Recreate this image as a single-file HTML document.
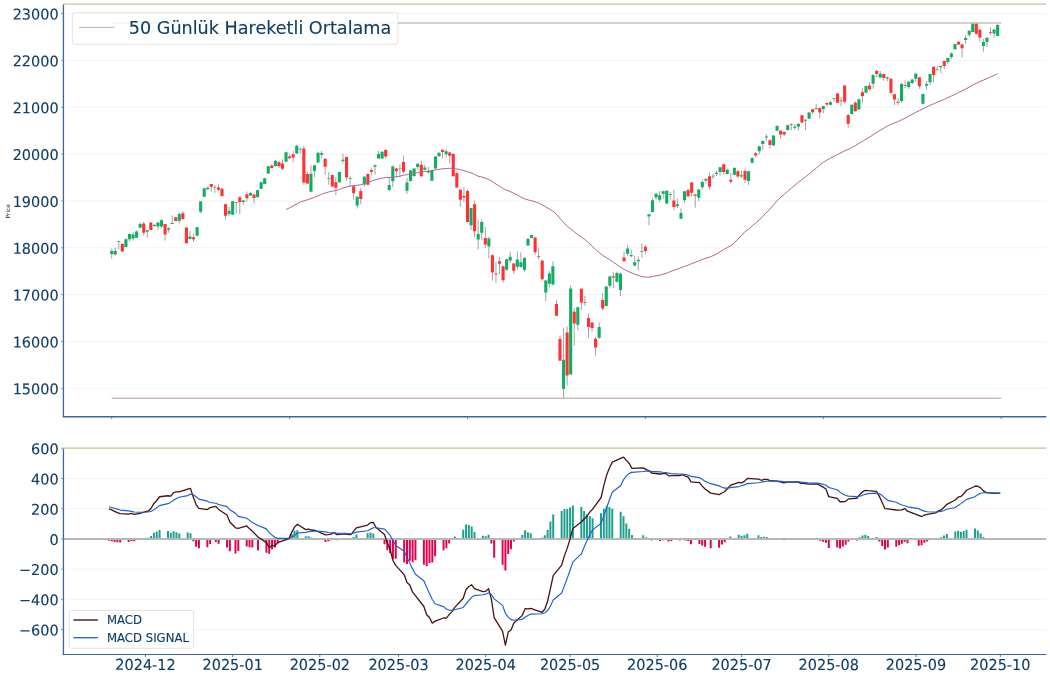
<!DOCTYPE html>
<html lang="tr"><head><meta charset="utf-8"><title>Grafik</title>
<style>html,body{margin:0;padding:0;background:#fff}svg{display:block}text{font-family:"DejaVu Sans","Liberation Sans",sans-serif;fill:#0f3d63;stroke:#0f3d63;stroke-width:0.12px}</style></head><body>
<svg width="1050" height="677" viewBox="0 0 1050 677">
<rect width="1050" height="677" fill="#fff"/>
<g id="price">
<line x1="65" x2="1046.3" y1="388.30" y2="388.30" stroke="#f3f3f3" stroke-width="1"/>
<line x1="65" x2="1046.3" y1="341.46" y2="341.46" stroke="#f3f3f3" stroke-width="1"/>
<line x1="65" x2="1046.3" y1="294.62" y2="294.62" stroke="#f3f3f3" stroke-width="1"/>
<line x1="65" x2="1046.3" y1="247.78" y2="247.78" stroke="#f3f3f3" stroke-width="1"/>
<line x1="65" x2="1046.3" y1="200.93" y2="200.93" stroke="#f3f3f3" stroke-width="1"/>
<line x1="65" x2="1046.3" y1="154.09" y2="154.09" stroke="#f3f3f3" stroke-width="1"/>
<line x1="65" x2="1046.3" y1="107.25" y2="107.25" stroke="#f3f3f3" stroke-width="1"/>
<line x1="65" x2="1046.3" y1="60.40" y2="60.40" stroke="#f3f3f3" stroke-width="1"/>
<line x1="65" x2="1046.3" y1="13.56" y2="13.56" stroke="#f3f3f3" stroke-width="1"/>
<line x1="111.7" x2="1001.2" y1="22.9" y2="22.9" stroke="#cbbec0" stroke-width="1.5"/>
<line x1="111.7" x2="1001.2" y1="398.2" y2="398.2" stroke="#cfbcbc" stroke-width="1.5"/>
<path d="M111.70 248.86V258.41M115.26 247.62V255.43M118.82 240.92V249.48M122.37 243.28V251.59M125.93 238.31V247.62M129.49 233.35V241.41M133.05 232.11V240.42M136.61 230.25V238.06M140.16 222.18V228.14M143.72 221.56V235.58M147.28 229.63V237.69M150.84 222.18V230.25M154.40 224.04V226.53M157.95 222.18V229.63M161.51 219.08V227.77M165.07 224.04V240.55M168.63 227.15V232.73M172.19 215.36V224.04M175.74 216.85V221.32M179.30 212.51V223.42M182.86 211.02V219.70M186.42 227.52V243.52M189.98 230.87V239.31M193.53 233.60V242.03M197.09 226.90V236.45M200.65 201.09V213.50M204.21 187.69V197.12M207.77 186.45V189.93M211.32 183.72V191.79M214.88 184.96V192.78M218.44 184.34V191.17M222.00 188.06V196.75M225.56 203.90V219.40M229.11 207.00V215.93M232.67 200.79V215.06M236.23 202.03V213.82M239.79 195.83V214.07M243.35 200.17V205.14M246.90 191.49V201.66M250.46 192.11V195.83M254.02 193.97V203.52M257.58 189.63V197.69M261.14 181.56V189.01M264.69 177.84V184.42M268.25 165.81V173.75M271.81 164.19V168.54M275.37 159.85V166.67M278.93 160.47V167.92M282.48 159.23V170.40M286.04 151.79V162.08M289.60 153.65V158.86M293.16 151.17V162.33M296.72 144.71V153.90M300.27 147.69V153.65M303.83 145.58V184.91M307.39 171.64V183.67M310.95 165.43V192.36M314.51 164.81V177.22M318.06 152.41V162.95M321.62 150.92V158.61M325.18 158.61V174.74M328.74 172.01V184.67M332.30 174.74V187.15M335.85 176.60V194.96M339.41 171.64V182.80M342.97 153.90V163.57M346.53 156.50V180.69M350.09 175.73V186.53M353.64 185.91V199.80M357.20 196.45V208.49M360.76 187.77V204.27M364.32 175.98V186.90M367.88 173.75V185.29M371.43 167.54V175.36M374.99 164.19V174.74M378.55 150.92V158.86M382.11 151.17V158.98M385.67 148.68V158.61M389.22 177.22V191.12M392.78 165.43V186.90M396.34 167.92V177.84M399.90 164.19V177.22M403.46 155.51V173.75M407.01 177.84V193.97M410.57 169.78V181.56M414.13 167.92V176.97M417.69 163.33V169.78M421.25 160.84V177.22M424.80 164.81V170.40M428.36 166.67V173.50M431.92 169.78V180.94M435.48 156.13V169.16M439.04 152.41V156.75M442.59 149.31V158.36M446.15 149.31V157.37M449.71 152.03V163.57M453.27 153.40V176.60M456.83 171.64V187.77M460.38 189.45V206.82M463.94 187.22V202.11M467.50 189.70V222.21M471.06 207.69V230.02M474.62 200.87V237.10M478.17 220.04V249.33M481.73 219.42V240.27M485.29 226.87V248.33M488.85 236.55V258.26M492.41 254.29V280.59M495.96 261.98V282.82M499.52 257.02V273.77M503.08 265.70V282.82M506.64 258.51V270.91M510.20 251.43V263.22M513.75 262.97V273.77M517.31 251.43V269.42M520.87 252.30V267.56M524.43 257.02V271.91M527.99 238.41V245.85M531.54 234.44V238.41M535.10 236.92V254.54M538.66 248.33V259.50M542.22 259.50V280.59M545.78 279.97V301.06M549.33 271.29V287.41M552.89 261.36V285.55M556.45 299.67V315.99M560.01 335.47V360.81M563.57 327.70V397.95M567.12 326.55V385.47M570.68 285.28V374.43M574.24 308.31V345.64M577.80 306.39V330.38M581.36 288.45V310.23M584.91 295.83V305.91M588.47 313.40V338.06M592.03 322.23V332.30M595.59 337.10V355.72M599.15 322.23V339.02M602.70 293.24V310.90M606.26 286.24V306.10M609.82 275.55V288.58M613.38 272.45V287.96M616.94 271.83V282.38M620.49 272.45V296.02M624.05 251.36V261.66M627.61 245.16V256.32M631.17 249.50V256.94M634.73 255.70V266.25M638.28 256.32V270.59M641.84 243.30V257.56M645.40 244.54V254.46M648.96 214.27V225.31M652.52 197.77V212.28M656.07 193.18V199.63M659.63 190.94V202.11M663.19 190.69V198.64M666.75 189.95V203.97M670.31 192.18V199.63M673.86 189.70V210.17M677.42 198.39V208.31M680.98 208.31V219.23M684.54 190.94V202.73M688.10 188.46V196.90M691.65 182.01V196.53M695.21 194.04V207.69M698.77 189.08V201.49M702.33 179.53V189.70M705.89 177.92V183.50M709.44 172.33V189.95M713.00 173.82V179.16M716.56 170.84V176.05M720.12 166.75V175.43M723.68 163.90V174.81M727.23 168.61V174.81M730.79 172.95V183.75M734.35 166.75V175.43M737.91 169.85V177.92M741.47 170.47V177.92M745.02 168.61V182.88M748.58 170.84V184.99M752.14 157.44V163.40M755.70 151.96V157.54M759.26 145.51V154.44M762.81 140.55V149.48M766.37 134.34V141.04M769.93 139.55V148.49M773.49 135.21V145.76M777.05 125.29V131.12M780.60 130.25V138.56M784.16 131.49V136.08M787.72 124.42V130.62M791.28 123.42V130.25M794.84 124.04V129.63M798.39 122.80V130.62M801.95 114.99V122.80M805.51 119.08V130.00M809.07 112.01V119.08M812.63 108.54V114.12M816.18 104.19V109.53M819.74 107.30V118.46M823.30 105.81V113.25M826.86 102.58V106.67M830.42 100.47V105.43M833.97 97.99V101.71M837.53 93.03V102.95M841.09 96.75V106.05M844.65 85.21V103.57M848.21 113.50V127.52M851.76 104.57V114.49M855.32 101.09V112.01M858.88 98.61V109.78M862.44 88.44V102.70M866.00 85.58V93.03M869.55 81.86V90.92M873.11 74.33V88.73M876.67 69.67V77.00M880.23 71.00V77.67M883.79 73.67V80.60M887.34 76.73V81.00M890.90 78.33V93.67M894.46 93.93V105.00M898.02 98.33V105.27M901.58 82.33V102.73M905.13 80.33V88.33M908.69 81.00V89.00M912.25 79.00V84.33M915.81 72.60V81.67M919.37 77.00V88.73M922.92 93.67V104.60M926.48 81.00V89.67M930.04 73.67V85.00M933.60 66.33V82.07M937.16 66.07V71.00M940.71 65.67V73.00M944.27 60.60V69.00M947.83 57.67V64.33M951.39 52.33V59.00M954.95 43.67V49.40M958.50 41.40V45.00M962.06 44.33V57.67M965.62 35.00V43.67M969.18 30.33V37.00M972.74 23.00V32.33M976.29 23.27V35.00M979.85 29.40V41.67M983.41 39.00V51.67M986.97 37.40V47.00M990.53 27.27V35.27M994.08 29.00V37.40M997.64 24.07V36.07" stroke="#8a8a8a" stroke-width="0.8" fill="none"/>
<path d="M110.15 251.09h3.1v2.98h-3.1zM113.71 251.09h3.1v3.35h-3.1zM117.27 240.92h3.1v0.74h-3.1zM124.38 239.18h3.1v7.82h-3.1zM127.94 233.97h3.1v5.33h-3.1zM131.50 234.59h3.1v3.97h-3.1zM135.06 231.49h3.1v6.20h-3.1zM138.61 224.04h3.1v3.72h-3.1zM145.73 230.25h3.1v1.61h-3.1zM152.85 224.91h3.1v0.99h-3.1zM156.40 222.43h3.1v4.09h-3.1zM159.96 220.32h3.1v6.20h-3.1zM167.08 228.14h3.1v1.49h-3.1zM170.64 223.05h3.1v0.99h-3.1zM177.75 214.12h3.1v6.58h-3.1zM188.43 236.45h3.1v2.48h-3.1zM195.54 227.15h3.1v8.68h-3.1zM199.10 201.46h3.1v10.17h-3.1zM202.66 188.31h3.1v8.44h-3.1zM206.22 187.69h3.1v1.61h-3.1zM227.56 210.72h3.1v3.35h-3.1zM231.12 201.17h3.1v13.65h-3.1zM241.80 200.55h3.1v1.49h-3.1zM248.91 192.98h3.1v2.48h-3.1zM256.03 190.25h3.1v6.82h-3.1zM259.59 182.18h3.1v6.58h-3.1zM263.14 178.21h3.1v5.83h-3.1zM266.70 166.30h3.1v7.20h-3.1zM273.82 160.72h3.1v5.33h-3.1zM284.49 152.16h3.1v9.55h-3.1zM295.17 145.83h3.1v7.57h-3.1zM298.72 148.68h3.1v0.74h-3.1zM309.40 173.75h3.1v18.11h-3.1zM312.96 165.19h3.1v5.83h-3.1zM316.51 152.78h3.1v9.80h-3.1zM320.07 153.03h3.1v1.61h-3.1zM327.19 178.21h3.1v0.87h-3.1zM337.86 172.01h3.1v10.17h-3.1zM341.42 159.85h3.1v1.24h-3.1zM348.54 178.09h3.1v0.74h-3.1zM355.65 196.82h3.1v8.68h-3.1zM362.77 176.85h3.1v7.57h-3.1zM373.44 165.19h3.1v1.49h-3.1zM377.00 153.90h3.1v4.71h-3.1zM380.56 151.79h3.1v6.82h-3.1zM387.67 185.04h3.1v4.96h-3.1zM391.23 166.43h3.1v14.89h-3.1zM405.46 182.56h3.1v8.31h-3.1zM409.02 170.40h3.1v10.55h-3.1zM412.58 168.54h3.1v7.44h-3.1zM416.14 163.82h3.1v3.23h-3.1zM423.25 167.54h3.1v2.23h-3.1zM426.81 171.27h3.1v1.24h-3.1zM430.37 170.40h3.1v10.30h-3.1zM433.93 156.50h3.1v12.03h-3.1zM437.49 152.78h3.1v3.35h-3.1zM444.60 151.17h3.1v3.10h-3.1zM469.51 207.94h3.1v17.37h-3.1zM476.62 234.06h3.1v5.33h-3.1zM480.18 221.91h3.1v10.92h-3.1zM487.30 238.41h3.1v8.06h-3.1zM505.09 259.25h3.1v10.42h-3.1zM508.65 256.77h3.1v3.72h-3.1zM515.76 259.50h3.1v7.20h-3.1zM519.32 262.23h3.1v4.71h-3.1zM522.88 258.01h3.1v12.03h-3.1zM526.44 238.78h3.1v6.82h-3.1zM529.99 234.93h3.1v3.10h-3.1zM544.23 280.59h3.1v11.79h-3.1zM547.78 273.39h3.1v10.30h-3.1zM551.34 266.32h3.1v18.24h-3.1zM562.02 359.85h3.1v28.98h-3.1zM569.13 288.45h3.1v85.99h-3.1zM576.25 307.16h3.1v17.47h-3.1zM597.60 327.02h3.1v10.84h-3.1zM604.71 286.53h3.1v19.39h-3.1zM608.27 276.42h3.1v9.43h-3.1zM615.39 273.07h3.1v8.68h-3.1zM618.94 273.69h3.1v16.38h-3.1zM626.06 248.51h3.1v5.33h-3.1zM629.62 255.08h3.1v1.24h-3.1zM633.18 262.15h3.1v3.47h-3.1zM636.73 259.67h3.1v1.61h-3.1zM640.29 250.99h3.1v0.74h-3.1zM647.41 214.27h3.1v2.11h-3.1zM650.97 200.25h3.1v11.79h-3.1zM654.52 193.67h3.1v3.85h-3.1zM658.08 195.29h3.1v4.34h-3.1zM661.64 191.19h3.1v2.48h-3.1zM665.20 190.69h3.1v12.90h-3.1zM668.76 193.92h3.1v0.74h-3.1zM675.87 204.22h3.1v1.86h-3.1zM679.43 213.03h3.1v5.83h-3.1zM682.99 191.32h3.1v8.93h-3.1zM697.22 189.45h3.1v8.31h-3.1zM700.78 182.01h3.1v5.21h-3.1zM704.34 178.91h3.1v1.49h-3.1zM711.45 175.81h3.1v0.74h-3.1zM715.01 172.70h3.1v1.24h-3.1zM718.57 167.37h3.1v4.71h-3.1zM725.68 169.85h3.1v4.09h-3.1zM732.80 167.99h3.1v6.82h-3.1zM739.92 175.19h3.1v1.24h-3.1zM747.03 171.34h3.1v9.68h-3.1zM750.59 158.06h3.1v4.71h-3.1zM757.71 146.13h3.1v5.21h-3.1zM761.26 141.04h3.1v2.85h-3.1zM764.82 136.45h3.1v0.99h-3.1zM771.94 135.46h3.1v10.05h-3.1zM775.50 125.91h3.1v4.96h-3.1zM786.17 125.29h3.1v4.71h-3.1zM793.29 126.53h3.1v1.24h-3.1zM796.84 124.04h3.1v2.48h-3.1zM803.96 119.70h3.1v0.99h-3.1zM807.52 112.51h3.1v6.20h-3.1zM814.63 108.29h3.1v0.99h-3.1zM821.75 106.05h3.1v2.85h-3.1zM828.87 102.33h3.1v2.48h-3.1zM832.42 98.36h3.1v0.62h-3.1zM850.21 104.81h3.1v9.31h-3.1zM857.33 99.23h3.1v10.30h-3.1zM864.45 85.96h3.1v6.70h-3.1zM871.56 75.00h3.1v8.67h-3.1zM878.68 73.67h3.1v3.73h-3.1zM885.79 77.13h3.1v1.47h-3.1zM900.03 83.93h3.1v17.07h-3.1zM907.14 81.67h3.1v5.33h-3.1zM910.70 79.40h3.1v3.60h-3.1zM914.26 73.67h3.1v5.07h-3.1zM921.37 93.93h3.1v9.73h-3.1zM924.93 83.93h3.1v1.73h-3.1zM928.49 73.93h3.1v8.40h-3.1zM939.16 65.93h3.1v1.33h-3.1zM946.28 58.07h3.1v3.87h-3.1zM949.84 53.40h3.1v3.60h-3.1zM953.40 43.93h3.1v5.33h-3.1zM964.07 38.07h3.1v2.00h-3.1zM967.63 30.73h3.1v4.00h-3.1zM971.19 23.67h3.1v8.40h-3.1zM981.86 42.07h3.1v3.87h-3.1zM985.42 37.67h3.1v4.40h-3.1zM992.53 29.40h3.1v4.00h-3.1zM996.09 25.00h3.1v10.93h-3.1z" fill="#10ae60"/>
<path d="M120.82 243.90h3.1v7.69h-3.1zM142.17 223.42h3.1v9.31h-3.1zM149.29 222.43h3.1v7.57h-3.1zM163.52 224.04h3.1v10.55h-3.1zM174.19 217.22h3.1v3.72h-3.1zM181.31 213.25h3.1v5.83h-3.1zM184.87 227.52h3.1v15.76h-3.1zM191.98 237.32h3.1v1.86h-3.1zM209.77 184.09h3.1v2.73h-3.1zM213.33 187.20h3.1v0.60h-3.1zM216.89 187.44h3.1v2.23h-3.1zM220.45 188.68h3.1v7.20h-3.1zM224.01 204.14h3.1v11.54h-3.1zM234.68 202.03h3.1v0.62h-3.1zM238.24 197.32h3.1v4.71h-3.1zM245.35 194.22h3.1v4.09h-3.1zM252.47 194.59h3.1v3.47h-3.1zM270.26 165.43h3.1v2.48h-3.1zM277.38 162.33h3.1v3.97h-3.1zM280.93 163.57h3.1v5.21h-3.1zM288.05 156.50h3.1v1.86h-3.1zM291.61 154.27h3.1v3.35h-3.1zM302.28 148.44h3.1v34.00h-3.1zM305.84 174.12h3.1v9.31h-3.1zM323.63 158.86h3.1v7.82h-3.1zM330.75 175.11h3.1v11.41h-3.1zM334.30 182.18h3.1v5.58h-3.1zM344.98 157.00h3.1v20.60h-3.1zM352.09 186.28h3.1v7.07h-3.1zM359.21 191.12h3.1v7.82h-3.1zM366.33 174.12h3.1v10.55h-3.1zM369.88 170.02h3.1v1.61h-3.1zM384.12 149.93h3.1v6.45h-3.1zM394.79 168.54h3.1v2.73h-3.1zM398.35 168.16h3.1v0.62h-3.1zM401.91 162.08h3.1v9.55h-3.1zM419.70 164.81h3.1v11.54h-3.1zM441.04 149.68h3.1v2.36h-3.1zM448.16 152.41h3.1v3.35h-3.1zM451.72 153.90h3.1v22.33h-3.1zM455.28 173.25h3.1v14.27h-3.1zM458.83 189.70h3.1v9.93h-3.1zM462.39 195.91h3.1v1.49h-3.1zM465.95 190.94h3.1v31.02h-3.1zM473.07 204.22h3.1v27.05h-3.1zM483.74 238.03h3.1v6.58h-3.1zM490.86 255.16h3.1v17.37h-3.1zM494.41 273.52h3.1v0.87h-3.1zM497.97 261.36h3.1v2.48h-3.1zM501.53 266.32h3.1v14.02h-3.1zM512.20 263.59h3.1v7.07h-3.1zM533.55 237.41h3.1v14.89h-3.1zM537.11 256.02h3.1v0.74h-3.1zM540.67 260.74h3.1v18.61h-3.1zM554.90 303.99h3.1v11.71h-3.1zM558.46 339.02h3.1v21.79h-3.1zM565.57 332.59h3.1v42.99h-3.1zM572.69 311.67h3.1v11.71h-3.1zM579.81 288.83h3.1v13.72h-3.1zM583.36 302.07h3.1v0.77h-3.1zM586.92 318.10h3.1v8.93h-3.1zM590.48 322.51h3.1v5.47h-3.1zM594.04 338.73h3.1v8.83h-3.1zM601.15 299.96h3.1v8.54h-3.1zM611.83 276.17h3.1v1.24h-3.1zM622.50 257.56h3.1v3.72h-3.1zM643.85 246.65h3.1v4.47h-3.1zM672.31 200.62h3.1v6.45h-3.1zM686.55 189.95h3.1v6.20h-3.1zM690.10 182.51h3.1v10.30h-3.1zM693.66 194.42h3.1v1.24h-3.1zM707.89 176.30h3.1v10.55h-3.1zM722.13 164.27h3.1v7.82h-3.1zM729.24 179.78h3.1v1.86h-3.1zM736.36 171.34h3.1v5.09h-3.1zM743.47 171.09h3.1v8.68h-3.1zM754.15 153.20h3.1v2.23h-3.1zM768.38 140.17h3.1v4.71h-3.1zM779.05 130.87h3.1v3.72h-3.1zM782.61 132.11h3.1v2.48h-3.1zM789.73 123.92h3.1v0.74h-3.1zM800.40 115.36h3.1v7.07h-3.1zM811.08 109.16h3.1v3.10h-3.1zM818.19 108.29h3.1v4.22h-3.1zM825.31 102.95h3.1v1.61h-3.1zM835.98 93.40h3.1v9.31h-3.1zM839.54 100.47h3.1v0.87h-3.1zM843.10 85.58h3.1v16.13h-3.1zM846.66 115.11h3.1v8.56h-3.1zM853.77 102.70h3.1v8.31h-3.1zM860.89 92.16h3.1v3.72h-3.1zM868.00 85.58h3.1v3.72h-3.1zM875.12 71.00h3.1v3.07h-3.1zM882.24 74.07h3.1v4.00h-3.1zM889.35 78.73h3.1v14.00h-3.1zM892.91 94.33h3.1v5.07h-3.1zM896.47 101.67h3.1v1.07h-3.1zM903.58 85.13h3.1v0.80h-3.1zM917.82 77.40h3.1v8.93h-3.1zM932.05 66.73h3.1v8.27h-3.1zM935.61 69.13h3.1v0.67h-3.1zM942.72 61.00h3.1v5.07h-3.1zM956.95 41.67h3.1v2.93h-3.1zM960.51 44.60h3.1v3.73h-3.1zM974.74 23.67h3.1v10.00h-3.1zM978.30 29.67h3.1v7.73h-3.1zM988.98 31.93h3.1v0.80h-3.1z" fill="#fe3133"/>
<polyline points="286.04,209.64 289.60,207.79 293.16,205.92 296.72,204.02 300.27,201.96 303.83,200.82 307.39,199.81 310.95,198.60 314.51,197.27 318.06,195.84 321.62,194.25 325.18,192.98 328.74,191.94 332.30,191.18 335.85,190.48 339.41,189.52 342.97,188.02 346.53,187.01 350.09,186.11 353.64,185.56 357.20,185.21 360.76,184.81 364.32,183.48 367.88,182.45 371.43,181.10 374.99,179.86 378.55,178.90 382.11,178.17 385.67,177.55 389.22,177.51 392.78,177.09 396.34,176.72 399.90,176.18 403.46,175.30 407.01,174.73 410.57,174.12 414.13,173.43 417.69,172.67 421.25,172.19 424.80,171.57 428.36,171.14 431.92,170.58 435.48,169.91 439.04,169.32 442.59,168.80 446.15,168.49 449.71,168.25 453.27,168.56 456.83,168.99 460.38,169.60 463.94,170.51 467.50,171.78 471.06,172.79 474.62,174.49 478.17,176.20 481.73,176.99 485.29,178.21 488.85,179.51 492.41,181.65 495.96,184.09 499.52,186.30 503.08,188.58 506.64,190.20 510.20,191.60 513.75,193.26 517.31,195.01 520.87,197.06 524.43,198.67 527.99,199.88 531.54,200.71 535.10,201.82 538.66,202.98 542.22,205.03 545.78,206.95 549.33,208.98 552.89,211.00 556.45,214.24 560.01,218.42 563.57,222.49 567.12,226.30 570.68,228.74 574.24,231.78 577.80,234.55 581.36,237.17 584.91,239.57 588.47,242.71 592.03,245.90 595.59,249.57 599.15,252.58 602.70,255.40 606.26,257.71 609.82,259.83 613.38,262.25 616.94,264.65 620.49,267.09 624.05,269.29 627.61,271.14 631.17,272.72 634.73,274.21 638.28,275.41 641.84,276.49 645.40,277.07 648.96,277.20 652.52,276.58 656.07,275.77 659.63,275.24 663.19,274.17 666.75,273.21 670.31,271.64 673.86,270.29 677.42,269.10 680.98,267.76 684.54,266.40 688.10,265.19 691.65,263.63 695.21,262.35 698.77,260.90 702.33,259.38 705.89,258.18 709.44,257.22 713.00,255.69 716.56,254.01 720.12,251.77 723.68,249.60 727.23,247.52 730.79,245.83 734.35,242.88 737.91,239.19 741.47,235.50 745.02,231.58 748.58,229.24 752.14,225.93 755.70,222.90 759.26,219.77 762.81,216.53 766.37,212.72 769.93,209.06 773.49,204.82 777.05,200.79 780.60,197.32 784.16,194.28 787.72,191.25 791.28,188.20 794.84,185.27 798.39,182.28 801.95,179.50 805.51,176.92 809.07,174.07 812.63,171.07 816.18,168.05 819.74,165.28 823.30,162.37 826.86,160.18 830.42,158.22 833.97,156.32 837.53,154.46 841.09,152.67 844.65,150.89 848.21,149.48 851.76,147.44 855.32,145.57 858.88,143.30 862.44,141.39 866.00,139.19 869.55,137.12 873.11,134.70 876.67,132.39 880.23,130.23 883.79,128.21 887.34,126.02 890.90,124.36 894.46,122.89 898.02,121.60 901.58,119.83 905.13,118.15 908.69,116.16 912.25,114.38 915.81,112.33 919.37,110.55 922.92,108.83 926.48,107.09 930.04,105.40 933.60,103.80 937.16,102.27 940.71,100.77 944.27,99.36 947.83,97.62 951.39,95.98 954.95,94.34 958.50,92.54 962.06,90.82 965.62,89.07 969.18,87.19 972.74,85.14 976.29,83.33 979.85,81.63 983.41,80.08 986.97,78.58 990.53,76.99 994.08,75.41 997.64,73.66" fill="none" stroke="#b2639a" stroke-width="1" stroke-linejoin="round"/>
<line x1="62.8" x2="1046.3" y1="4.2" y2="4.2" stroke="#cfc291" stroke-width="1.3"/>
<line x1="63.45" x2="63.45" y1="4.8" y2="417.1" stroke="#3a6896" stroke-width="1.3"/>
<line x1="62.8" x2="1046.3" y1="416.8" y2="416.8" stroke="#3a6896" stroke-width="1.5"/>
<line x1="61.0" x2="62.8" y1="388.30" y2="388.30" stroke="#3a6896" stroke-width="0.8" stroke-opacity="0.85"/>
<text transform="translate(58.6,394.30) rotate(0.05) scale(1,1.03)" font-size="14.45" text-anchor="end">15000</text>
<line x1="61.0" x2="62.8" y1="341.46" y2="341.46" stroke="#3a6896" stroke-width="0.8" stroke-opacity="0.85"/>
<text transform="translate(58.6,347.46) rotate(0.05) scale(1,1.03)" font-size="14.45" text-anchor="end">16000</text>
<line x1="61.0" x2="62.8" y1="294.62" y2="294.62" stroke="#3a6896" stroke-width="0.8" stroke-opacity="0.85"/>
<text transform="translate(58.6,300.62) rotate(0.05) scale(1,1.03)" font-size="14.45" text-anchor="end">17000</text>
<line x1="61.0" x2="62.8" y1="247.78" y2="247.78" stroke="#3a6896" stroke-width="0.8" stroke-opacity="0.85"/>
<text transform="translate(58.6,253.78) rotate(0.05) scale(1,1.03)" font-size="14.45" text-anchor="end">18000</text>
<line x1="61.0" x2="62.8" y1="200.93" y2="200.93" stroke="#3a6896" stroke-width="0.8" stroke-opacity="0.85"/>
<text transform="translate(58.6,206.93) rotate(0.05) scale(1,1.03)" font-size="14.45" text-anchor="end">19000</text>
<line x1="61.0" x2="62.8" y1="154.09" y2="154.09" stroke="#3a6896" stroke-width="0.8" stroke-opacity="0.85"/>
<text transform="translate(58.6,160.09) rotate(0.05) scale(1,1.03)" font-size="14.45" text-anchor="end">20000</text>
<line x1="61.0" x2="62.8" y1="107.25" y2="107.25" stroke="#3a6896" stroke-width="0.8" stroke-opacity="0.85"/>
<text transform="translate(58.6,113.25) rotate(0.05) scale(1,1.03)" font-size="14.45" text-anchor="end">21000</text>
<line x1="61.0" x2="62.8" y1="60.40" y2="60.40" stroke="#3a6896" stroke-width="0.8" stroke-opacity="0.85"/>
<text transform="translate(58.6,66.40) rotate(0.05) scale(1,1.03)" font-size="14.45" text-anchor="end">22000</text>
<line x1="61.0" x2="62.8" y1="13.56" y2="13.56" stroke="#3a6896" stroke-width="0.8" stroke-opacity="0.85"/>
<text transform="translate(58.6,19.56) rotate(0.05) scale(1,1.03)" font-size="14.45" text-anchor="end">23000</text>
<line x1="111.70" x2="111.70" y1="417.4" y2="419.0" stroke="#3a6896" stroke-width="0.9"/>
<line x1="289.60" x2="289.60" y1="417.4" y2="419.0" stroke="#3a6896" stroke-width="0.9"/>
<line x1="467.50" x2="467.50" y1="417.4" y2="419.0" stroke="#3a6896" stroke-width="0.9"/>
<line x1="645.40" x2="645.40" y1="417.4" y2="419.0" stroke="#3a6896" stroke-width="0.9"/>
<line x1="823.30" x2="823.30" y1="417.4" y2="419.0" stroke="#3a6896" stroke-width="0.9"/>
<line x1="1001.20" x2="1001.20" y1="417.4" y2="419.0" stroke="#3a6896" stroke-width="0.9"/>
<text transform="translate(9.5,211.3) rotate(-90)" font-size="5.8" text-anchor="middle" style="fill:#222;stroke:none">Price</text>
<rect x="72.4" y="12.8" width="325.6" height="31.5" rx="2.4" fill="#fff" fill-opacity="0.8" stroke="#dcdcdc" stroke-opacity="0.8" stroke-width="1"/>
<line x1="79" x2="114.3" y1="27.4" y2="27.4" stroke="#b2b2b2" stroke-width="1"/>
<text x="128.8" y="33.6" font-size="17.6">50 Günlük Hareketli Ortalama</text>
</g>
<g id="macd">
<line x1="65" x2="1046.3" y1="448.25" y2="448.25" stroke="#f3f3f3" stroke-width="1"/>
<line x1="65" x2="1046.3" y1="478.47" y2="478.47" stroke="#f3f3f3" stroke-width="1"/>
<line x1="65" x2="1046.3" y1="508.68" y2="508.68" stroke="#f3f3f3" stroke-width="1"/>
<line x1="65" x2="1046.3" y1="538.90" y2="538.90" stroke="#f3f3f3" stroke-width="1"/>
<line x1="65" x2="1046.3" y1="569.12" y2="569.12" stroke="#f3f3f3" stroke-width="1"/>
<line x1="65" x2="1046.3" y1="599.33" y2="599.33" stroke="#f3f3f3" stroke-width="1"/>
<line x1="65" x2="1046.3" y1="629.55" y2="629.55" stroke="#f3f3f3" stroke-width="1"/>
<path d="M147.33 537.84h1.97V538.90h-1.97zM150.14 535.91h1.97V538.90h-1.97zM152.95 532.66h1.97V538.90h-1.97zM155.76 531.55h1.97V538.90h-1.97zM158.57 530.04h1.97V538.90h-1.97zM167.01 531.01h1.97V538.90h-1.97zM169.82 532.86h1.97V538.90h-1.97zM172.63 531.25h1.97V538.90h-1.97zM175.44 532.27h1.97V538.90h-1.97zM178.26 533.47h1.97V538.90h-1.97zM186.69 532.46h1.97V538.90h-1.97zM189.50 533.15h1.97V538.90h-1.97zM290.73 534.07h1.97V538.90h-1.97zM293.54 530.80h1.97V538.90h-1.97zM296.35 530.15h1.97V538.90h-1.97zM304.79 536.16h1.97V538.90h-1.97zM307.60 536.30h1.97V538.90h-1.97zM310.41 537.58h1.97V538.90h-1.97zM313.22 538.02h1.97V538.90h-1.97zM332.91 538.67h1.97V538.90h-1.97zM352.59 536.98h1.97V538.90h-1.97zM355.40 534.57h1.97V538.90h-1.97zM366.65 533.19h1.97V538.90h-1.97zM369.46 532.52h1.97V538.90h-1.97zM372.27 533.47h1.97V538.90h-1.97zM375.08 538.67h1.97V538.90h-1.97zM453.81 536.46h1.97V538.90h-1.97zM462.25 529.69h1.97V538.90h-1.97zM465.06 524.51h1.97V538.90h-1.97zM467.87 525.01h1.97V538.90h-1.97zM470.68 526.41h1.97V538.90h-1.97zM473.50 532.06h1.97V538.90h-1.97zM481.93 535.70h1.97V538.90h-1.97zM484.74 536.16h1.97V538.90h-1.97zM487.55 534.63h1.97V538.90h-1.97zM521.30 534.96h1.97V538.90h-1.97zM524.11 530.36h1.97V538.90h-1.97zM526.92 532.19h1.97V538.90h-1.97zM529.73 533.20h1.97V538.90h-1.97zM540.98 537.47h1.97V538.90h-1.97zM543.79 535.31h1.97V538.90h-1.97zM546.60 529.65h1.97V538.90h-1.97zM549.41 521.41h1.97V538.90h-1.97zM552.23 514.47h1.97V538.90h-1.97zM560.66 511.04h1.97V538.90h-1.97zM563.47 508.97h1.97V538.90h-1.97zM566.28 508.94h1.97V538.90h-1.97zM569.10 507.58h1.97V538.90h-1.97zM571.91 505.45h1.97V538.90h-1.97zM580.34 507.01h1.97V538.90h-1.97zM583.16 510.98h1.97V538.90h-1.97zM585.97 514.35h1.97V538.90h-1.97zM588.78 515.94h1.97V538.90h-1.97zM591.59 518.20h1.97V538.90h-1.97zM600.03 513.20h1.97V538.90h-1.97zM602.84 508.66h1.97V538.90h-1.97zM605.65 506.25h1.97V538.90h-1.97zM608.46 507.07h1.97V538.90h-1.97zM611.27 508.77h1.97V538.90h-1.97zM619.71 511.73h1.97V538.90h-1.97zM622.52 516.17h1.97V538.90h-1.97zM625.33 523.39h1.97V538.90h-1.97zM628.14 528.71h1.97V538.90h-1.97zM630.96 535.00h1.97V538.90h-1.97zM642.20 535.27h1.97V538.90h-1.97zM645.02 537.25h1.97V538.90h-1.97zM647.83 538.50h1.97V538.90h-1.97zM729.37 536.62h1.97V538.90h-1.97zM737.80 534.67h1.97V538.90h-1.97zM740.62 535.89h1.97V538.90h-1.97zM743.43 535.35h1.97V538.90h-1.97zM746.24 533.72h1.97V538.90h-1.97zM757.49 535.27h1.97V538.90h-1.97zM760.30 536.94h1.97V538.90h-1.97zM763.11 536.69h1.97V538.90h-1.97zM765.92 537.04h1.97V538.90h-1.97zM768.73 538.27h1.97V538.90h-1.97zM858.71 537.27h1.97V538.90h-1.97zM861.52 535.49h1.97V538.90h-1.97zM864.34 534.87h1.97V538.90h-1.97zM867.15 536.00h1.97V538.90h-1.97zM875.58 537.09h1.97V538.90h-1.97zM937.44 538.07h1.97V538.90h-1.97zM940.25 537.32h1.97V538.90h-1.97zM943.07 535.53h1.97V538.90h-1.97zM945.88 533.89h1.97V538.90h-1.97zM954.31 531.44h1.97V538.90h-1.97zM957.13 530.72h1.97V538.90h-1.97zM959.94 531.77h1.97V538.90h-1.97zM962.75 531.01h1.97V538.90h-1.97zM965.56 529.78h1.97V538.90h-1.97zM974.00 528.38h1.97V538.90h-1.97zM976.81 530.51h1.97V538.90h-1.97zM979.62 533.45h1.97V538.90h-1.97zM982.43 536.96h1.97V538.90h-1.97zM985.24 538.78h1.97V538.90h-1.97zM999.30 538.90h1.97V538.90h-1.97z" fill="#1f9e8f"/>
<path d="M107.96 538.90h1.97V540.73h-1.97zM110.77 538.90h1.97V541.16h-1.97zM113.59 538.90h1.97V541.91h-1.97zM116.40 538.90h1.97V542.37h-1.97zM119.21 538.90h1.97V542.44h-1.97zM127.64 538.90h1.97V542.10h-1.97zM130.46 538.90h1.97V540.88h-1.97zM133.27 538.90h1.97V541.31h-1.97zM138.89 538.90h1.97V540.09h-1.97zM192.32 538.90h1.97V541.24h-1.97zM195.13 538.90h1.97V546.80h-1.97zM197.94 538.90h1.97V548.26h-1.97zM206.37 538.90h1.97V547.28h-1.97zM209.19 538.90h1.97V544.02h-1.97zM214.81 538.90h1.97V542.09h-1.97zM217.62 538.90h1.97V543.85h-1.97zM226.06 538.90h1.97V547.38h-1.97zM228.87 538.90h1.97V551.16h-1.97zM234.49 538.90h1.97V553.41h-1.97zM237.30 538.90h1.97V551.04h-1.97zM245.74 538.90h1.97V546.62h-1.97zM248.55 538.90h1.97V547.29h-1.97zM251.36 538.90h1.97V547.55h-1.97zM256.99 538.90h1.97V550.54h-1.97zM265.42 538.90h1.97V552.65h-1.97zM268.23 538.90h1.97V553.78h-1.97zM271.05 538.90h1.97V549.21h-1.97zM273.86 538.90h1.97V547.45h-1.97zM276.67 538.90h1.97V543.23h-1.97zM287.92 538.90h1.97V539.03h-1.97zM316.03 538.90h1.97V538.99h-1.97zM324.47 538.90h1.97V541.92h-1.97zM327.28 538.90h1.97V541.16h-1.97zM330.09 538.90h1.97V540.23h-1.97zM335.72 538.90h1.97V540.34h-1.97zM344.15 538.90h1.97V539.55h-1.97zM346.96 538.90h1.97V539.84h-1.97zM349.78 538.90h1.97V539.84h-1.97zM383.52 538.90h1.97V544.37h-1.97zM386.33 538.90h1.97V550.24h-1.97zM389.14 538.90h1.97V552.93h-1.97zM391.95 538.90h1.97V558.98h-1.97zM394.77 538.90h1.97V558.81h-1.97zM403.20 538.90h1.97V562.40h-1.97zM406.01 538.90h1.97V563.89h-1.97zM408.82 538.90h1.97V560.84h-1.97zM411.64 538.90h1.97V562.23h-1.97zM414.45 538.90h1.97V560.33h-1.97zM422.88 538.90h1.97V564.72h-1.97zM425.69 538.90h1.97V566.13h-1.97zM428.51 538.90h1.97V562.96h-1.97zM431.32 538.90h1.97V562.62h-1.97zM434.13 538.90h1.97V556.26h-1.97zM442.57 538.90h1.97V550.27h-1.97zM445.38 538.90h1.97V548.16h-1.97zM448.19 538.90h1.97V543.41h-1.97zM451.00 538.90h1.97V540.11h-1.97zM490.37 538.90h1.97V543.58h-1.97zM493.18 538.90h1.97V557.73h-1.97zM501.61 538.90h1.97V564.87h-1.97zM504.43 538.90h1.97V570.62h-1.97zM507.24 538.90h1.97V553.93h-1.97zM510.05 538.90h1.97V549.16h-1.97zM512.86 538.90h1.97V541.56h-1.97zM650.64 538.90h1.97V540.51h-1.97zM659.07 538.90h1.97V541.03h-1.97zM661.89 538.90h1.97V540.32h-1.97zM664.70 538.90h1.97V539.77h-1.97zM667.51 538.90h1.97V541.62h-1.97zM670.32 538.90h1.97V540.96h-1.97zM678.76 538.90h1.97V540.39h-1.97zM681.57 538.90h1.97V539.45h-1.97zM684.38 538.90h1.97V540.40h-1.97zM687.19 538.90h1.97V541.04h-1.97zM690.00 538.90h1.97V544.33h-1.97zM698.44 538.90h1.97V543.88h-1.97zM701.25 538.90h1.97V545.62h-1.97zM704.06 538.90h1.97V546.65h-1.97zM709.69 538.90h1.97V548.36h-1.97zM718.12 538.90h1.97V547.70h-1.97zM720.93 538.90h1.97V544.58h-1.97zM723.75 538.90h1.97V542.25h-1.97zM726.56 538.90h1.97V539.16h-1.97zM777.17 538.90h1.97V539.09h-1.97zM779.98 538.90h1.97V539.78h-1.97zM782.79 538.90h1.97V540.14h-1.97zM785.61 538.90h1.97V539.33h-1.97zM788.42 538.90h1.97V539.28h-1.97zM796.85 538.90h1.97V538.92h-1.97zM799.66 538.90h1.97V540.09h-1.97zM802.48 538.90h1.97V539.95h-1.97zM805.29 538.90h1.97V540.01h-1.97zM808.10 538.90h1.97V540.05h-1.97zM816.54 538.90h1.97V539.70h-1.97zM819.35 538.90h1.97V540.84h-1.97zM822.16 538.90h1.97V541.68h-1.97zM824.97 538.90h1.97V542.63h-1.97zM827.78 538.90h1.97V548.05h-1.97zM836.22 538.90h1.97V547.55h-1.97zM839.03 538.90h1.97V548.50h-1.97zM841.84 538.90h1.97V546.60h-1.97zM844.65 538.90h1.97V544.72h-1.97zM847.46 538.90h1.97V541.59h-1.97zM855.90 538.90h1.97V540.56h-1.97zM878.39 538.90h1.97V541.49h-1.97zM881.21 538.90h1.97V545.90h-1.97zM884.02 538.90h1.97V549.38h-1.97zM886.83 538.90h1.97V547.51h-1.97zM895.27 538.90h1.97V546.65h-1.97zM898.08 538.90h1.97V545.16h-1.97zM900.89 538.90h1.97V543.75h-1.97zM903.70 538.90h1.97V541.74h-1.97zM906.51 538.90h1.97V543.24h-1.97zM917.76 538.90h1.97V545.82h-1.97zM920.57 538.90h1.97V545.28h-1.97zM923.38 538.90h1.97V542.81h-1.97zM926.20 538.90h1.97V541.54h-1.97zM934.63 538.90h1.97V539.77h-1.97zM993.68 538.90h1.97V539.32h-1.97zM996.49 538.90h1.97V539.38h-1.97z" fill="#e2004f"/>
<line x1="64" x2="1046.3" y1="539" y2="539" stroke="#b4b8b8" stroke-width="1.9"/>
<polyline points="108.95,508.82 111.76,509.82 114.57,511.32 117.38,512.64 120.19,513.60 128.63,514.06 131.44,513.34 134.25,514.37 139.88,513.44 148.31,510.93 151.12,508.25 153.94,503.44 156.75,500.49 159.56,496.76 167.99,495.76 170.81,496.11 173.62,492.58 176.43,491.95 179.24,491.79 187.68,489.17 190.49,488.42 193.30,497.10 196.11,504.63 198.92,508.43 207.36,509.55 210.17,507.57 215.80,506.43 218.61,509.43 227.04,515.08 229.85,521.93 235.48,527.80 238.29,528.47 246.72,525.99 249.54,528.75 252.35,531.17 257.97,537.07 266.41,542.62 269.22,547.47 272.03,545.48 274.84,545.85 277.65,542.72 288.90,538.55 291.71,532.39 294.53,527.09 297.34,524.25 305.77,529.58 308.58,529.07 311.40,530.02 314.21,530.23 317.02,531.23 325.46,534.92 328.27,534.71 331.08,534.12 333.89,532.50 336.70,534.53 345.14,533.90 347.95,534.43 350.76,534.66 353.57,531.32 356.38,527.83 367.63,525.02 370.44,522.76 373.26,522.36 376.07,527.50 384.50,534.57 387.31,543.28 390.13,549.47 392.94,560.53 395.75,565.34 404.19,574.82 407.00,582.55 409.81,584.98 412.62,592.21 415.43,595.66 423.87,606.51 426.68,614.72 429.49,617.58 432.30,623.16 435.12,621.15 443.55,617.99 446.36,618.20 449.17,614.58 451.99,611.59 454.80,607.32 463.23,598.25 466.05,589.48 468.86,586.50 471.67,584.78 474.48,588.72 482.92,591.56 485.73,591.33 488.54,588.73 491.35,598.85 494.16,617.71 502.60,631.34 505.41,645.02 508.22,632.08 511.03,629.89 513.85,622.95 522.28,615.37 525.09,608.63 527.90,608.79 530.72,608.36 541.96,612.28 544.78,609.22 547.59,601.26 550.40,588.64 553.21,575.59 561.65,565.20 564.46,555.64 567.27,548.13 570.08,538.93 572.89,528.44 581.33,522.03 584.14,519.03 586.95,516.26 589.76,512.11 592.58,509.20 601.01,497.76 603.82,485.66 606.64,475.09 609.45,467.96 612.26,462.12 620.69,458.29 623.51,457.05 626.32,460.39 629.13,463.17 631.94,468.47 643.19,467.84 646.00,469.41 648.81,470.56 651.62,472.98 660.06,474.02 662.87,473.67 665.68,473.33 668.49,475.86 671.31,475.71 679.74,475.52 682.55,474.72 685.37,476.04 688.18,477.21 690.99,481.87 699.42,482.65 702.24,486.08 705.05,489.05 710.67,493.13 719.11,494.67 721.92,492.96 724.73,491.47 727.54,488.45 730.35,485.34 738.79,482.34 741.60,482.80 744.41,481.37 747.23,478.45 758.47,479.09 761.28,480.27 764.10,479.46 766.91,479.35 769.72,480.42 778.15,481.29 780.97,482.20 783.78,482.87 786.59,482.17 789.40,482.21 797.84,481.86 800.65,483.33 803.46,483.45 806.27,483.79 809.08,484.11 817.52,483.96 820.33,485.59 823.14,487.12 825.96,489.01 828.77,496.71 837.20,498.37 840.01,501.73 842.83,501.75 845.64,501.33 848.45,498.87 856.89,498.26 859.70,494.56 862.51,491.93 865.32,490.29 868.13,490.70 876.57,491.33 879.38,496.39 882.19,502.55 885.00,508.65 887.82,508.93 896.25,510.01 899.06,510.08 901.87,509.88 904.69,508.58 907.50,511.17 918.75,515.48 921.56,516.54 924.37,515.05 927.18,514.43 935.62,512.88 938.43,510.97 941.24,509.83 944.05,507.20 946.86,504.30 955.30,499.99 958.11,497.22 960.92,496.49 963.73,493.76 966.55,490.24 974.98,486.22 977.79,486.25 980.60,487.83 983.42,490.85 986.23,492.64 994.66,493.29 997.48,493.46 1000.29,492.98" fill="none" stroke="#471212" stroke-width="1.3" stroke-linejoin="round"/>
<polyline points="108.95,506.99 111.76,507.55 114.57,508.31 117.38,509.17 120.19,510.06 128.63,510.86 131.44,511.35 134.25,511.96 139.88,512.25 148.31,511.99 151.12,511.24 153.94,509.68 156.75,507.84 159.56,505.63 167.99,503.65 170.81,502.14 173.62,500.23 176.43,498.58 179.24,497.22 187.68,495.61 190.49,494.17 193.30,494.76 196.11,496.73 198.92,499.07 207.36,501.17 210.17,502.45 215.80,503.24 218.61,504.48 227.04,506.60 229.85,509.67 235.48,513.29 238.29,516.33 246.72,518.26 249.54,520.36 252.35,522.52 257.97,525.43 266.41,528.87 269.22,532.59 272.03,535.17 274.84,537.30 277.65,538.39 288.90,538.42 291.71,537.21 294.53,535.19 297.34,533.00 305.77,532.32 308.58,531.67 311.40,531.34 314.21,531.12 317.02,531.14 325.46,531.90 328.27,532.46 331.08,532.79 333.89,532.73 336.70,533.09 345.14,533.26 347.95,533.49 350.76,533.73 353.57,533.24 356.38,532.16 367.63,530.73 370.44,529.14 373.26,527.78 376.07,527.73 384.50,529.09 387.31,531.93 390.13,535.44 392.94,540.46 395.75,545.43 404.19,551.31 407.00,557.56 409.81,563.04 412.62,568.88 415.43,574.23 423.87,580.69 426.68,587.50 429.49,593.51 432.30,599.44 435.12,603.78 443.55,606.63 446.36,608.94 449.17,610.07 451.99,610.37 454.80,609.76 463.23,607.46 466.05,603.86 468.86,600.39 471.67,597.27 474.48,595.56 482.92,594.76 485.73,594.07 488.54,593.01 491.35,594.17 494.16,598.88 502.60,605.37 505.41,613.30 508.22,617.06 511.03,619.62 513.85,620.29 522.28,619.31 525.09,617.17 527.90,615.49 530.72,614.07 541.96,613.71 544.78,612.81 547.59,610.50 550.40,606.13 553.21,600.02 561.65,593.06 564.46,585.58 567.27,578.09 570.08,570.26 572.89,561.89 581.33,553.92 584.14,546.94 586.95,540.80 589.76,535.07 592.58,529.89 601.01,523.47 603.82,515.90 606.64,507.74 609.45,499.79 612.26,492.25 620.69,485.46 623.51,479.78 626.32,475.90 629.13,473.35 631.94,472.38 643.19,471.47 646.00,471.06 648.81,470.96 651.62,471.36 660.06,471.89 662.87,472.25 665.68,472.46 668.49,473.14 671.31,473.66 679.74,474.03 682.55,474.17 685.37,474.54 688.18,475.08 690.99,476.44 699.42,477.68 702.24,479.36 705.05,481.30 710.67,483.66 719.11,485.86 721.92,487.28 724.73,488.12 727.54,488.19 730.35,487.62 738.79,486.56 741.60,485.81 744.41,484.92 747.23,483.63 758.47,482.72 761.28,482.23 764.10,481.68 766.91,481.21 769.72,481.05 778.15,481.10 780.97,481.32 783.78,481.63 786.59,481.74 789.40,481.83 797.84,481.84 800.65,482.14 803.46,482.40 806.27,482.68 809.08,482.96 817.52,483.16 820.33,483.65 823.14,484.34 825.96,485.28 828.77,487.56 837.20,489.73 840.01,492.13 842.83,494.05 845.64,495.51 848.45,496.18 856.89,496.59 859.70,496.19 862.51,495.33 865.32,494.33 868.13,493.60 876.57,493.15 879.38,493.80 882.19,495.55 885.00,498.17 887.82,500.32 896.25,502.26 899.06,503.82 901.87,505.04 904.69,505.74 907.50,506.83 918.75,508.56 921.56,510.16 924.37,511.13 927.18,511.79 935.62,512.01 938.43,511.80 941.24,511.41 944.05,510.57 946.86,509.31 955.30,507.45 958.11,505.40 960.92,503.62 963.73,501.65 966.55,499.37 974.98,496.74 977.79,494.64 980.60,493.28 983.42,492.79 986.23,492.76 994.66,492.87 997.48,492.99 1000.29,492.99" fill="none" stroke="#1c5fcc" stroke-width="1.15" stroke-linejoin="round"/>
<line x1="62.8" x2="1046.3" y1="448.1" y2="448.1" stroke="#cfc291" stroke-width="1.3"/>
<line x1="63.45" x2="63.45" y1="448.7" y2="654.8" stroke="#3a6896" stroke-width="1.3"/>
<line x1="62.8" x2="1046.3" y1="654.45" y2="654.45" stroke="#3a6896" stroke-width="1.05"/>
<line x1="61.0" x2="62.8" y1="448.25" y2="448.25" stroke="#3a6896" stroke-width="0.8" stroke-opacity="0.85"/>
<text transform="translate(58.6,454.25) rotate(0.05) scale(1,1.03)" font-size="14.45" text-anchor="end">600</text>
<line x1="61.0" x2="62.8" y1="478.47" y2="478.47" stroke="#3a6896" stroke-width="0.8" stroke-opacity="0.85"/>
<text transform="translate(58.6,484.47) rotate(0.05) scale(1,1.03)" font-size="14.45" text-anchor="end">400</text>
<line x1="61.0" x2="62.8" y1="508.68" y2="508.68" stroke="#3a6896" stroke-width="0.8" stroke-opacity="0.85"/>
<text transform="translate(58.6,514.68) rotate(0.05) scale(1,1.03)" font-size="14.45" text-anchor="end">200</text>
<line x1="61.0" x2="62.8" y1="538.90" y2="538.90" stroke="#3a6896" stroke-width="0.8" stroke-opacity="0.85"/>
<text transform="translate(58.6,544.90) rotate(0.05) scale(1,1.03)" font-size="14.45" text-anchor="end">0</text>
<line x1="61.0" x2="62.8" y1="569.12" y2="569.12" stroke="#3a6896" stroke-width="0.8" stroke-opacity="0.85"/>
<text transform="translate(58.6,575.12) rotate(0.05) scale(1,1.03)" font-size="14.45" text-anchor="end">−200</text>
<line x1="61.0" x2="62.8" y1="599.33" y2="599.33" stroke="#3a6896" stroke-width="0.8" stroke-opacity="0.85"/>
<text transform="translate(58.6,605.33) rotate(0.05) scale(1,1.03)" font-size="14.45" text-anchor="end">−400</text>
<line x1="61.0" x2="62.8" y1="629.55" y2="629.55" stroke="#3a6896" stroke-width="0.8" stroke-opacity="0.85"/>
<text transform="translate(58.6,635.55) rotate(0.05) scale(1,1.03)" font-size="14.45" text-anchor="end">−600</text>
<line x1="145.50" x2="145.50" y1="654.8" y2="657" stroke="#3a6896" stroke-width="0.9"/>
<text transform="translate(145.50,669.9) rotate(0.05) scale(1,1.04)" font-size="14.45" text-anchor="middle">2024-12</text>
<line x1="232.67" x2="232.67" y1="654.8" y2="657" stroke="#3a6896" stroke-width="0.9"/>
<text transform="translate(232.67,669.9) rotate(0.05) scale(1,1.04)" font-size="14.45" text-anchor="middle">2025-01</text>
<line x1="319.83" x2="319.83" y1="654.8" y2="657" stroke="#3a6896" stroke-width="0.9"/>
<text transform="translate(319.83,669.9) rotate(0.05) scale(1,1.04)" font-size="14.45" text-anchor="middle">2025-02</text>
<line x1="398.56" x2="398.56" y1="654.8" y2="657" stroke="#3a6896" stroke-width="0.9"/>
<text transform="translate(398.56,669.9) rotate(0.05) scale(1,1.04)" font-size="14.45" text-anchor="middle">2025-03</text>
<line x1="485.73" x2="485.73" y1="654.8" y2="657" stroke="#3a6896" stroke-width="0.9"/>
<text transform="translate(485.73,669.9) rotate(0.05) scale(1,1.04)" font-size="14.45" text-anchor="middle">2025-04</text>
<line x1="570.08" x2="570.08" y1="654.8" y2="657" stroke="#3a6896" stroke-width="0.9"/>
<text transform="translate(570.08,669.9) rotate(0.05) scale(1,1.04)" font-size="14.45" text-anchor="middle">2025-05</text>
<line x1="657.25" x2="657.25" y1="654.8" y2="657" stroke="#3a6896" stroke-width="0.9"/>
<text transform="translate(657.25,669.9) rotate(0.05) scale(1,1.04)" font-size="14.45" text-anchor="middle">2025-06</text>
<line x1="741.60" x2="741.60" y1="654.8" y2="657" stroke="#3a6896" stroke-width="0.9"/>
<text transform="translate(741.60,669.9) rotate(0.05) scale(1,1.04)" font-size="14.45" text-anchor="middle">2025-07</text>
<line x1="828.77" x2="828.77" y1="654.8" y2="657" stroke="#3a6896" stroke-width="0.9"/>
<text transform="translate(828.77,669.9) rotate(0.05) scale(1,1.04)" font-size="14.45" text-anchor="middle">2025-08</text>
<line x1="915.93" x2="915.93" y1="654.8" y2="657" stroke="#3a6896" stroke-width="0.9"/>
<text transform="translate(915.93,669.9) rotate(0.05) scale(1,1.04)" font-size="14.45" text-anchor="middle">2025-09</text>
<line x1="1000.29" x2="1000.29" y1="654.8" y2="657" stroke="#3a6896" stroke-width="0.9"/>
<text transform="translate(1000.29,669.9) rotate(0.05) scale(1,1.04)" font-size="14.45" text-anchor="middle">2025-10</text>
<rect x="69.3" y="610.5" width="124.2" height="37.8" rx="2" fill="#fff" fill-opacity="0.8" stroke="#dcdcdc" stroke-opacity="0.8" stroke-width="1"/>
<line x1="73.5" x2="97.8" y1="620" y2="620" stroke="#471212" stroke-width="1.4"/>
<line x1="73.5" x2="97.8" y1="637.7" y2="637.7" stroke="#1c5fcc" stroke-width="1.3"/>
<text x="107" y="624.4" font-size="11.7">MACD</text>
<text x="107" y="642.2" font-size="11.7">MACD SIGNAL</text>
</g>
</svg></body></html>
